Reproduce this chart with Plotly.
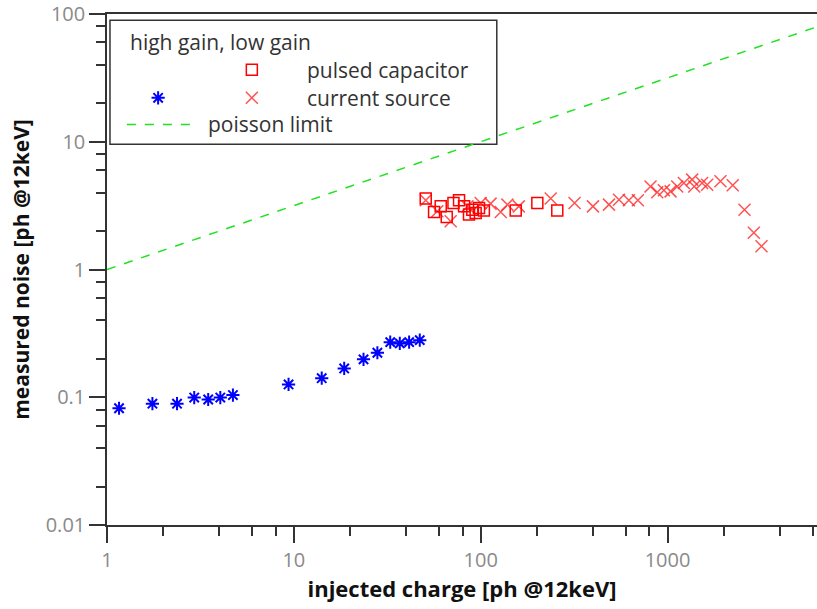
import plotly.graph_objects as go

# high gain, current source (blue stars)
hg_charge = [1.16, 1.75, 2.37, 2.93, 3.48, 4.04, 4.72, 9.37, 14.1, 18.6,
             23.6, 28.0, 32.8, 36.9, 41.4, 47.2]
hg_noise = [0.082, 0.089, 0.089, 0.0995, 0.096, 0.0995, 0.104, 0.126, 0.141, 0.168,
            0.198, 0.223, 0.27, 0.264, 0.27, 0.28]

# low gain, pulsed capacitor (red squares)
cap_charge = [50.8, 56.3, 61.1, 65.8, 71.5, 76.6, 81.5, 86.6, 90.2, 94.0,
              98.0, 104, 154, 201, 257]
cap_noise = [3.59, 2.82, 3.12, 2.58, 3.32, 3.48, 3.12, 2.69, 2.94, 2.77,
             3.03, 2.9, 2.9, 3.32, 2.9]

# low gain, current source (red crosses)
cs_charge = [50.8, 58.6, 69.1, 84.9, 100, 113, 128, 139, 160, 237,
             318, 399, 486, 550, 621, 694, 811, 881, 956, 1038,
             1127, 1223, 1355, 1390, 1531, 1630, 1920, 2234, 2582, 2897, 3184]
cs_noise = [3.48, 2.86, 2.39, 3.12, 3.32, 3.28, 2.82, 3.22, 3.12, 3.59,
            3.32, 3.12, 3.22, 3.52, 3.48, 3.48, 4.47, 4.02, 4.17, 4.09,
            4.47, 4.76, 5.05, 4.47, 4.76, 4.6, 4.9, 4.56, 2.94, 1.94, 1.52]

# poisson limit: noise = sqrt(charge)
poisson_charge = [1, 10, 100, 1000, 6400]
poisson_noise = [1, 3.1623, 10, 31.623, 80]

FONT = "Open Sans"
TEXT = "#333333"
RED = "#ff0000"
RED_X = "rgba(255,40,40,0.8)"
BLUE = "#0000ff"
GREEN = "#22e022"

star = dict(symbol="asterisk-open", size=11, color=BLUE, line=dict(color=BLUE, width=2))
square = dict(symbol="square-open", size=11, color=RED, line=dict(color=RED, width=1.5))
cross = dict(symbol="x-thin-open", size=12, color=RED_X, line=dict(color=RED_X, width=1.5))

fig = go.Figure()

fig.add_trace(go.Scatter(
    x=poisson_charge, y=poisson_noise, mode="lines",
    line=dict(color=GREEN, width=1.5, dash="dash"), showlegend=False,
))
fig.add_trace(go.Scatter(x=hg_charge, y=hg_noise, mode="markers", marker=star, showlegend=False))
fig.add_trace(go.Scatter(x=cs_charge, y=cs_noise, mode="markers", marker=cross, showlegend=False))
fig.add_trace(go.Scatter(x=cap_charge, y=cap_noise, mode="markers", marker=square, showlegend=False))

# key glyphs on an overlay axis in plot-fraction units
for kx, ky, mk in [(0.204, 0.891, square), (0.072, 0.836, star), (0.204, 0.836, cross)]:
    fig.add_trace(go.Scatter(
        x=[kx], y=[ky], mode="markers", xaxis="x2", yaxis="y2",
        marker=mk, showlegend=False, hoverinfo="skip",
    ))

axis_common = dict(
    type="log", showgrid=False, zeroline=False, automargin=False,
    showline=True, linecolor="#333333", linewidth=1.5,
    ticks="outside", ticklen=16, tickwidth=1.5, tickcolor="#333333",
    tickfont=dict(family=FONT, size=20, color="#8a8a8a"),
    tickmode="array", ticklabeloverflow="allow",
)
minor_common = dict(tickmode="array", ticks="outside", ticklen=9, tickwidth=1.5, tickcolor="#333333")

fig.update_layout(
    width=817, height=609,
    margin=dict(l=107, r=0, t=14, b=84),
    plot_bgcolor="white", paper_bgcolor="white",
    xaxis=dict(
        **axis_common, range=[0, 3.80], mirror=True,
        tickvals=[1, 10, 100, 1000], ticktext=["1", "10", "100", "1000"],
        minor=dict(**minor_common,
                   tickvals=[2, 4, 6, 8, 20, 40, 60, 80, 200, 400, 600, 800, 2000, 4000, 6000]),
        title=dict(text="<b>injected charge [ph @12keV]</b>", standoff=10,
                   font=dict(family=FONT, size=22, color="#111111")),
    ),
    yaxis=dict(
        **axis_common, range=[-2, 2], mirror=False,
        tickvals=[0.01, 0.1, 1, 10, 100], ticktext=["0.01", "0.1", "1", "10", "100"],
        minor=dict(**minor_common,
                   tickvals=[0.02, 0.04, 0.06, 0.08, 0.2, 0.4, 0.6, 0.8, 2, 4, 6, 8, 20, 40, 60, 80]),
        title=dict(text="<b>measured noise [ph @12keV]</b>", standoff=10,
                   font=dict(family=FONT, size=21, color="#111111")),
    ),
    xaxis2=dict(overlaying="x", range=[0, 1], visible=False),
    yaxis2=dict(overlaying="y", range=[0, 1], visible=False),
    shapes=[
        dict(type="rect", xref="paper", yref="paper", x0=0.0042, x1=0.549, y0=0.745, y1=0.988,
             line=dict(color="#333333", width=1.5), layer="below"),
        dict(type="line", xref="paper", yref="paper", x0=0.028, x1=0.117, y0=0.784, y1=0.784,
             line=dict(color=GREEN, width=1.5, dash="dash")),
    ],
    annotations=[
        dict(text=t, x=x, y=y, xref="paper", yref="paper",
             xanchor="left", yanchor="middle", showarrow=False,
             font=dict(family=FONT, size=21, color=TEXT))
        for t, x, y in [
            ("high gain, low gain", 0.0296, 0.945),
            ("pulsed capacitor", 0.279, 0.891),
            ("current source", 0.279, 0.836),
            ("poisson limit", 0.139, 0.784),
        ]
    ],
)

# drop the page's default body margin so the figure fills the window exactly
fig.write_html("out.html", config={"displayModeBar": False},
               post_script="document.body.style.margin='0';")
